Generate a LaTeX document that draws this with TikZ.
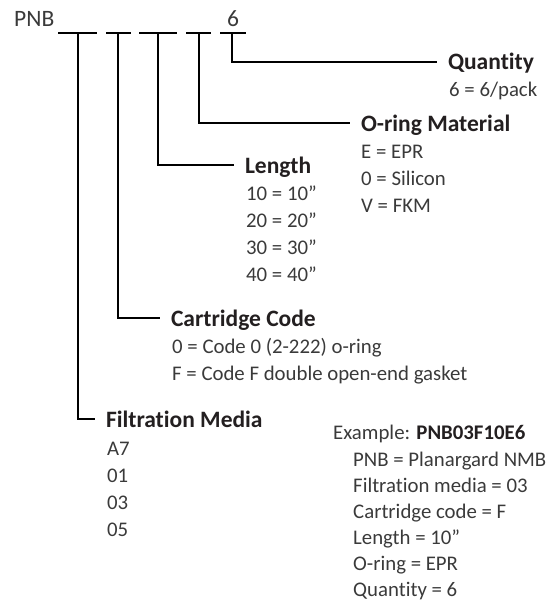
\documentclass[tikz,border=0pt]{standalone}
\usepackage{fontspec}
\setmainfont{Carlito}[Ligatures=NoCommon]
\definecolor{txtgray}{HTML}{3A3A3A}
\definecolor{headblack}{HTML}{231F20}
\newcommand{\inchmark}{\symbol{34}}
\tikzset{
  item/.style={anchor=base west, inner sep=0pt, text=txtgray, font=\fontsize{20.8}{25}\selectfont},
  head/.style={anchor=base west, inner sep=0pt, outer xsep=11pt, text height=16pt, text depth=0pt,
    text=headblack, font=\bfseries\fontsize{23.5}{28}\selectfont},
  lead/.style={line width=1.3pt, black}
}
\begin{document}
\begin{tikzpicture}[x=1pt,y=-1pt]
    \useasboundingbox (0,0) rectangle (551,602);

    \node[item, font=\fontsize{23.5}{28}\selectfont] (pnb) at (14,27) {PNB};
    \node[item, font=\fontsize{23.5}{28}\selectfont] (six) at (227,27) {6};
    \foreach \a/\b in {58/97,106/131,139/177,186/211,220/246}
        \draw[lead] (\a,33) -- (\b,33);

    \coordinate (fmedia) at (78,33);
    \coordinate (fcart) at (118,33);
    \coordinate (flen) at (158,33);
    \coordinate (foring) at (199,33);
    \coordinate (fqty) at (232,33);

    \node[head] (qty) at (437,70) {Quantity};
    \node[item] (qty1) at (449,96) {6 = 6/pack};
    \draw[lead] (fqty) |- (qty.west);

    \node[head] (oring) at (350,131) {O-ring Material};
    \foreach \t [count=\i] in {E = EPR,0 = Silicon,V = FKM}
        \node[item] (oring\i) at (361,131+27*\i) {\t};
    \draw[lead] (foring) |- (oring.west);

    \node[head] (len) at (234,173) {Length};
    \foreach \t [count=\i] in {10 = 10\inchmark,20 = 20\inchmark,30 = 30\inchmark,40 = 40\inchmark}
        \node[item] (len\i) at (246,173+27*\i) {\t};
    \draw[lead] (flen) |- (len.west);

    \node[head] (cart) at (160,326) {Cartridge Code};
    \foreach \t [count=\i] in {0 = Code 0 (2-222) o-ring,F = Code F double open-end gasket}
        \node[item] (cart\i) at (172,326+27*\i) {\t};
    \draw[lead] (fcart) |- (cart.west);

    \node[head] (media) at (95,427) {Filtration Media};
    \foreach \t [count=\i] in {A7,01,03,05}
        \node[item] (media\i) at (107,428+27*\i) {\t};
    \draw[lead] (fmedia) |- (media.west);

    \node[item] (ex) at (333,439) {Example: \textbf{\color{headblack}PNB03F10E6}};
    \foreach \t [count=\i] in {PNB = Planargard NMB,Filtration media = 03,Cartridge code = F,
        Length = 10\inchmark,O-ring = EPR,Quantity = 6}
        \node[item] (ex\i) at (353,440+26*\i) {\t};
\end{tikzpicture}
\end{document}
